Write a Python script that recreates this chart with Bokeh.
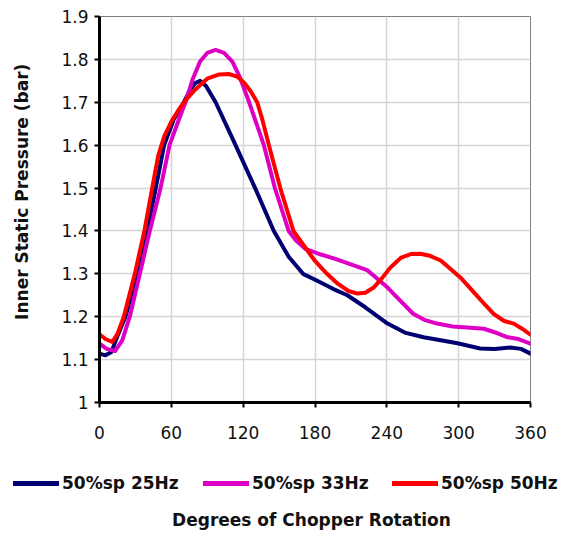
from bokeh.plotting import figure
from bokeh.layouts import column
from bokeh.models import Range1d, FixedTicker, Div
from bokeh.embed import file_html
from bokeh.resources import INLINE

# ---- data ----
x_ticks = [0, 60, 120, 180, 240, 300, 360]
y_ticks = [1.0, 1.1, 1.2, 1.3, 1.4, 1.5, 1.6, 1.7, 1.8, 1.9]

blue_label = "50%sp 25Hz"
blue_x = [0, 5, 10, 15, 21.7, 31.5, 39.8, 47, 54, 62, 70.5, 76, 80, 84, 89, 97, 112, 130,
          145.6, 158, 170, 181, 195, 207, 222, 240.6, 255, 270.7, 285, 299, 318, 330, 343, 352, 360]
blue_y = [1.114, 1.110, 1.118, 1.155, 1.20, 1.30, 1.40, 1.50, 1.60, 1.66, 1.70, 1.73, 1.745, 1.75,
          1.738, 1.70, 1.61, 1.50, 1.40, 1.34, 1.30, 1.285, 1.265, 1.25, 1.222, 1.184, 1.163, 1.152,
          1.145, 1.138, 1.126, 1.125, 1.128, 1.125, 1.114]

mag_label = "50%sp 33Hz"
mag_x = [0, 6, 13, 19, 25.3, 33.7, 42, 51, 58.5, 65, 71.8, 78, 84, 90, 97, 104, 111, 117, 125,
         137.3, 146.5, 158, 164, 172, 185, 197, 210, 224, 240.6, 252, 262, 272, 282, 295, 307,
         321, 332, 341, 350, 360]
mag_y = [1.137, 1.125, 1.12, 1.145, 1.20, 1.30, 1.40, 1.50, 1.60, 1.65, 1.70, 1.755, 1.795, 1.815,
         1.822, 1.815, 1.795, 1.76, 1.70, 1.60, 1.50, 1.40, 1.378, 1.358, 1.345, 1.335, 1.322, 1.308,
         1.268, 1.235, 1.207, 1.192, 1.184, 1.177, 1.175, 1.172, 1.162, 1.152, 1.148, 1.137]

red_label = "50%sp 50Hz"
red_x = [0, 5, 10.6, 15, 20.3, 29.5, 37.5, 44, 49, 54, 60, 66, 72, 80, 90, 100, 108, 115, 121,
         126, 131.7, 136, 141.5, 151, 162, 173.5, 180, 190, 199, 208, 215.5, 222, 229, 236, 243,
         252, 260, 268, 276, 285, 293, 301.6, 315, 322, 329, 338, 346, 353, 360]
red_y = [1.159, 1.148, 1.141, 1.16, 1.20, 1.30, 1.40, 1.50, 1.575, 1.62, 1.655, 1.682, 1.705,
         1.73, 1.755, 1.765, 1.766, 1.76, 1.745, 1.727, 1.70, 1.66, 1.60, 1.50, 1.40, 1.355, 1.33,
         1.30, 1.277, 1.26, 1.254, 1.256, 1.268, 1.29, 1.315, 1.338, 1.346, 1.347, 1.342, 1.331,
         1.312, 1.291, 1.25, 1.228, 1.207, 1.19, 1.184, 1.172, 1.158]

series_labels = [blue_label, mag_label, red_label]
series_colors = ["#000070", "#dd00c4", "#ff0000"]

x_title = "Degrees of Chopper Rotation"
y_title = "Inner Static Pressure (bar)"

FONT = "DejaVu Sans"
TXT = "#111111"
W = 551

# ---------------- main chart ----------------
p = figure(width=W, height=455, output_backend="svg", toolbar_location=None,
           x_range=Range1d(0, 360), y_range=Range1d(1.0, 1.9),
           min_border_left=99, min_border_right=21, min_border_top=16, min_border_bottom=53)
p.background_fill_color = "white"
p.border_fill_color = "white"
p.outline_line_color = "#808080"
p.outline_line_width = 1

for ax in (p.xaxis[0], p.yaxis[0]):
    ax.axis_line_color = "black"
    ax.axis_line_width = 3
    ax.major_tick_line_color = "black"
    ax.major_tick_line_width = 2
    ax.major_tick_in = 0
    ax.major_tick_out = 5
    ax.minor_tick_line_color = None
    ax.major_label_text_font = FONT
    ax.major_label_text_font_size = "17px"
    ax.major_label_text_color = TXT

p.xaxis.axis_label = None
p.xaxis.ticker = FixedTicker(ticks=x_ticks)
p.yaxis.ticker = FixedTicker(ticks=y_ticks)
p.yaxis.major_label_overrides = {1.0: "1"}
p.xaxis.major_label_standoff = 18
p.yaxis.major_label_standoff = 6

p.yaxis.axis_label = "\u00a0" * 6 + y_title
p.yaxis.axis_label_text_font = FONT
p.yaxis.axis_label_text_font_size = "17px"
p.yaxis.axis_label_text_font_style = "bold"
p.yaxis.axis_label_text_color = TXT
p.yaxis.axis_label_standoff = 26

p.xgrid.ticker = FixedTicker(ticks=x_ticks)
p.ygrid.ticker = FixedTicker(ticks=y_ticks)
p.grid.grid_line_color = "#d4d4d4"
p.grid.grid_line_width = 1.5

p.line(blue_x, blue_y, line_color=series_colors[0], line_width=4, line_join="round", line_cap="round")
p.line(mag_x, mag_y, line_color=series_colors[1], line_width=4, line_join="round", line_cap="round")
p.line(red_x, red_y, line_color=series_colors[2], line_width=4, line_join="round", line_cap="round")

# ---------------- legend + x title (HTML strip below the chart) ----------------
H2 = 64
item_left = [13, 203, 392]
parts = []
for left, lab, col in zip(item_left, series_labels, series_colors):
    parts.append(
        f'<span style="position:absolute;left:{left}px;top:26px;width:46px;height:5px;'
        f'background:{col};"></span>'
        f'<span style="position:absolute;left:{left + 49}px;top:17px;line-height:22px;'
        f'white-space:nowrap;">{lab}</span>'
    )
parts.append(
    f'<span style="position:absolute;left:0px;top:54px;width:623px;text-align:center;'
    f'line-height:22px;white-space:nowrap;">{x_title}</span>'
)
html = (f'<div style="position:relative;width:{W}px;height:{H2}px;font-family:\'{FONT}\';'
        f'font-weight:bold;font-size:17px;color:{TXT};overflow:visible;">' + "".join(parts) + "</div>")
strip = Div(text=html, width=W, height=H2, margin=0)

layout = column(p, strip, spacing=0)
open("out.html", "w").write(file_html(layout, INLINE))
